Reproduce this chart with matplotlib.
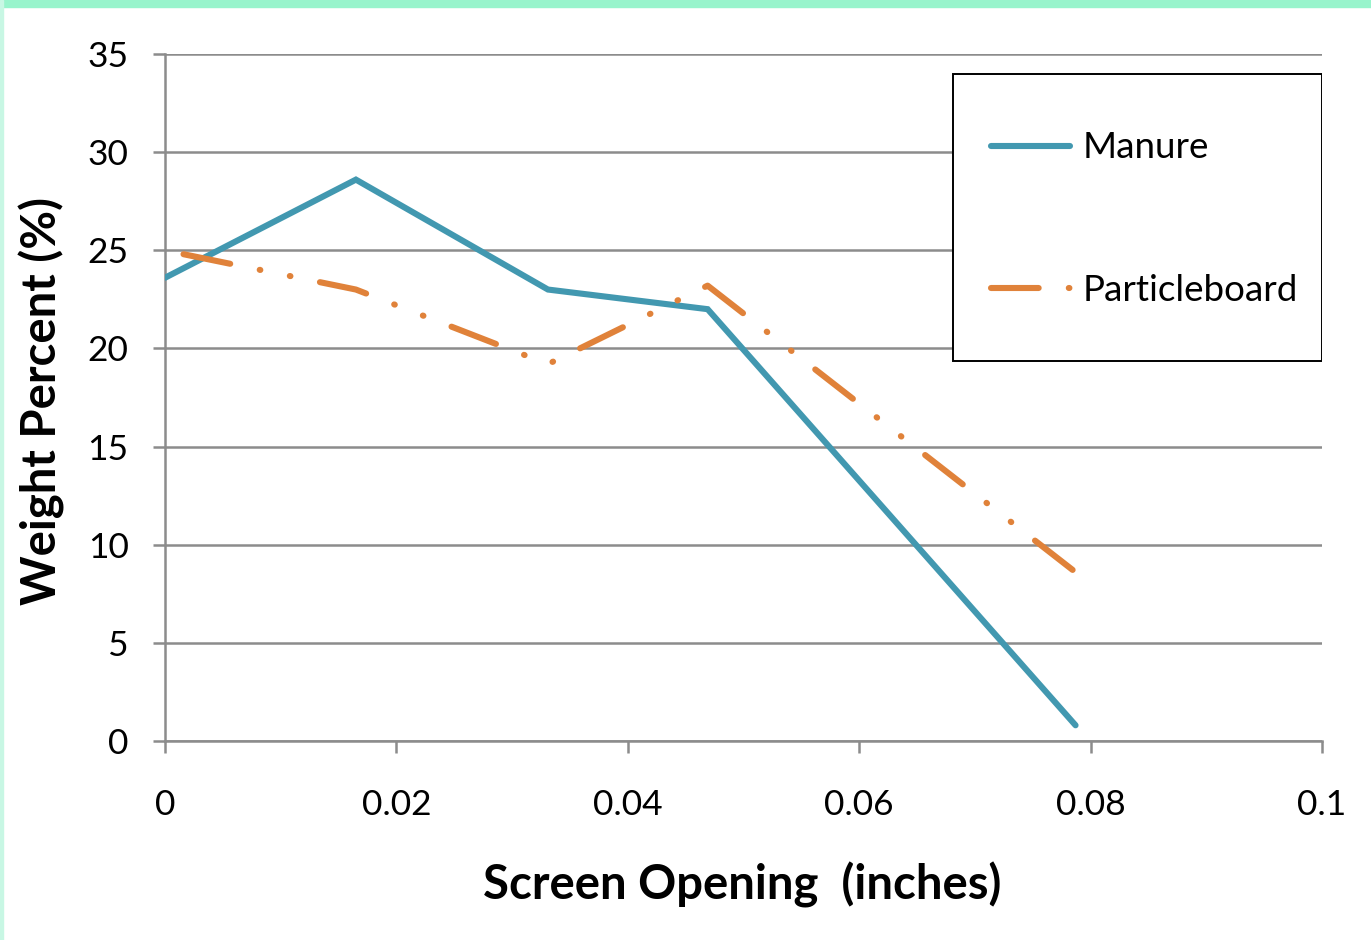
import matplotlib
matplotlib.use('Agg')
import matplotlib.pyplot as plt
from matplotlib.patches import Rectangle

plt.rcParams['font.family'] = ['Lato', 'DejaVu Sans']

# data
manure_x = [0.0, 0.0165, 0.0331, 0.0469, 0.0787]
manure_y = [23.6, 28.6, 23.0, 22.0, 0.8]
particle_x = [0.0016, 0.0165, 0.0331, 0.0469, 0.0787]
particle_y = [24.8, 23.0, 19.2, 23.2, 8.6]

x_ticks = [0, 0.02, 0.04, 0.06, 0.08, 0.1]
x_labels = ['0', '0.02', '0.04', '0.06', '0.08', '0.1']
y_ticks = [0, 5, 10, 15, 20, 25, 30, 35]

blue = '#4298b0'
orange = '#e0823a'
grid_c = '#8c8c8c'

fig = plt.figure(figsize=(13.71, 9.40), dpi=100)
ax = fig.add_axes([165 / 1371, 1 - 741 / 940, 1157 / 1371, 687 / 940])

# green frame at the top and left edges
fig.patches.append(Rectangle((0, 1 - 7 / 940), 1, 7 / 940, transform=fig.transFigure,
                             color='#98f4cc', zorder=0))
fig.patches.append(Rectangle((0, 0), 3 / 1371, 1, transform=fig.transFigure,
                             color='#c8f7e4', zorder=0))

ax.plot(manure_x, manure_y, color=blue, lw=4.4, solid_capstyle='round',
        solid_joinstyle='miter', label='Manure', zorder=3)
ax.plot(particle_x, particle_y, color=orange, lw=4.4,
        linestyle=(0, (7.8, 4.93, 0.1, 4.93, 0.1, 4.93)), dash_capstyle='round',
        label='Particleboard', zorder=3)

ax.set_xlim(0, 0.1)
ax.set_ylim(0, 35)
ax.set_xticks(x_ticks)
ax.set_xticklabels(x_labels)
ax.set_yticks(y_ticks)

ax.grid(axis='y', color=grid_c, lw=1.8)
ax.set_axisbelow(True)
for s in ['top', 'right']:
    ax.spines[s].set_visible(False)
for s in ['left', 'bottom']:
    ax.spines[s].set_color(grid_c)
    ax.spines[s].set_linewidth(1.8)
ax.tick_params(axis='both', colors=grid_c, width=1.8, length=8.6, labelcolor='black',
               labelsize=25.5)
ax.tick_params(axis='x', pad=26)
ax.tick_params(axis='y', pad=17.6)

ax.set_xlabel('Screen Opening  (inches)', fontsize=34, fontweight='bold', va='center')
ax.set_ylabel('Weight Percent (%)', fontsize=34, fontweight='bold', va='center')
ax.xaxis.set_label_coords(0.4987, -0.2096)
ax.yaxis.set_label_coords(-0.1063, 0.495)

# legend box drawn separately so the padding can match the original
ax.add_patch(Rectangle((0.6811, 0.5531), 0.3189, 0.4178, transform=ax.transAxes,
                       facecolor='white', edgecolor='black', lw=1.4, zorder=4.5))
leg = ax.legend(loc='center left', bbox_to_anchor=(0.7135, 0.7597), borderaxespad=0,
                fontsize=26.5, frameon=False, borderpad=0, labelspacing=2.97,
                handlelength=2.17, handletextpad=0.34)
leg.set_zorder(5)

fig.savefig('out.png', dpi=100)
